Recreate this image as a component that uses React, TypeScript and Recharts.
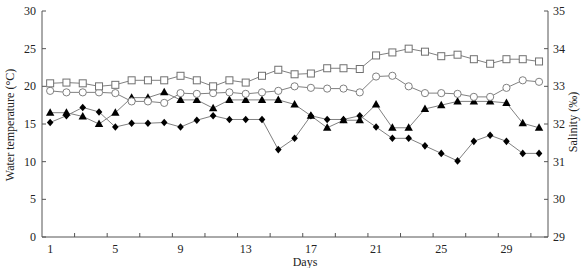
import React from 'react';
import { LineChart, Line, XAxis, YAxis } from 'recharts';

const days = [1, 2, 3, 4, 5, 6, 7, 8, 9, 10, 11, 12, 13, 14, 15, 16, 17, 18, 19, 20, 21, 22, 23, 24, 25, 26, 27, 28, 29, 30, 31];

// Water temperature (°C), left axis
const tempSquare = [20.4, 20.5, 20.4, 20.0, 20.2, 20.8, 20.8, 20.8, 21.4, 20.8, 20.0, 20.8, 20.5, 21.4, 22.2, 21.6, 21.7, 22.4, 22.4, 22.3, 24.1, 24.5, 25.0, 24.6, 24.0, 24.2, 23.6, 23.0, 23.6, 23.6, 23.3];
const tempCircle = [19.4, 19.2, 19.2, 19.2, 19.1, 18.0, 18.0, 17.8, 19.1, 19.0, 19.1, 19.2, 19.0, 19.2, 19.4, 20.0, 19.8, 19.7, 19.7, 19.2, 21.3, 21.4, 20.0, 19.1, 19.1, 19.0, 18.6, 18.6, 19.8, 20.8, 20.6];

// Salinity (‰), right axis
const salTriangle = [32.3, 32.3, 32.2, 32.0, 32.3, 32.7, 32.7, 32.84, 32.64, 32.64, 32.42, 32.64, 32.64, 32.64, 32.64, 32.52, 32.22, 31.9, 32.1, 32.1, 32.52, 31.9, 31.9, 32.4, 32.5, 32.6, 32.6, 32.6, 32.56, 32.02, 31.9];
const salDiamond = [32.04, 32.22, 32.44, 32.32, 31.92, 32.02, 32.02, 32.04, 31.92, 32.1, 32.22, 32.12, 32.12, 32.12, 31.32, 31.62, 32.22, 32.12, 32.12, 32.22, 31.92, 31.62, 31.62, 31.42, 31.22, 31.02, 31.54, 31.7, 31.54, 31.22, 31.22];

const xLabelTicks = [1, 5, 9, 13, 17, 21, 25, 29];
const xMinorTicks = [2.5, 4.5, 6.5, 8.5, 10.5, 12.5, 14.5, 16.5, 18.5, 20.5, 22.5, 24.5, 26.5, 28.5, 30.5];
const leftTicks = [0, 5, 10, 15, 20, 25, 30];
const rightTicks = [29, 30, 31, 32, 33, 34, 35];

const data = days.map((d, i) => ({
  day: d,
  sq: tempSquare[i],
  ci: tempCircle[i],
  tr: salTriangle[i],
  di: salDiamond[i],
}));

const FONT = '"Liberation Serif", "Times New Roman", serif';
const AXIS = '#555';
const LINE = '#808080';

const XTick = (props: any) => {
  const { x, y, payload } = props;
  const v = payload.value;
  if (Number.isInteger(v)) {
    return (
      <text x={x} y={y + 16} textAnchor="middle" fontSize={12} fill="#222" fontFamily={FONT}>
        {v}
      </text>
    );
  }
  return <line x1={x} x2={x} y1={y} y2={y - 4} stroke={AXIS} strokeWidth={1} />;
};

const LeftTick = (props: any) => {
  const { x, y, payload } = props;
  return (
    <g>
      <line x1={x} x2={x + 4} y1={y} y2={y} stroke={AXIS} strokeWidth={1} />
      <text x={x - 6} y={y + 4} textAnchor="end" fontSize={12} fill="#222" fontFamily={FONT}>
        {payload.value}
      </text>
    </g>
  );
};

const RightTick = (props: any) => {
  const { x, y, payload } = props;
  return (
    <g>
      <line x1={x} x2={x - 4} y1={y} y2={y} stroke={AXIS} strokeWidth={1} />
      <text x={x + 5} y={y + 4} textAnchor="start" fontSize={12} fill="#222" fontFamily={FONT}>
        {payload.value}
      </text>
    </g>
  );
};

const SquareDot = (p: any) => (
  <rect key={`sq-${p.index}`} x={p.cx - 3.5} y={p.cy - 3.5} width={7} height={7} fill="#fff" stroke="#707070" strokeWidth={1} />
);
const CircleDot = (p: any) => (
  <circle key={`ci-${p.index}`} cx={p.cx} cy={p.cy} r={3.6} fill="#fff" stroke="#808080" strokeWidth={1} />
);
const TriangleDot = (p: any) => (
  <polygon key={`tr-${p.index}`} points={`${p.cx},${p.cy - 4.5} ${p.cx - 4.2},${p.cy + 3} ${p.cx + 4.2},${p.cy + 3}`} fill="#000" />
);
const DiamondDot = (p: any) => (
  <polygon key={`di-${p.index}`} points={`${p.cx},${p.cy - 3.8} ${p.cx + 3.3},${p.cy} ${p.cx},${p.cy + 3.8} ${p.cx - 3.3},${p.cy}`} fill="#000" />
);

export default function App() {
  return (
    <div style={{ position: 'absolute', left: 0, top: 0, width: 588, height: 268, background: '#fff' }}>
      <LineChart width={588} height={268} data={data} margin={{ top: 11, right: 0, bottom: 0, left: 0 }}>
        <XAxis
          dataKey="day"
          type="number"
          domain={[0.5, 31.55]}
          ticks={[...xLabelTicks, ...xMinorTicks].sort((a, b) => a - b)}
          interval={0}
          tick={<XTick />}
          tickLine={false}
          tickSize={0}
          tickMargin={0}
          height={31}
          axisLine={{ stroke: AXIS }}
        />
        <YAxis
          yAxisId="left"
          orientation="left"
          domain={[0, 30]}
          ticks={leftTicks}
          interval={0}
          width={42}
          tick={<LeftTick />}
          tickLine={false}
          tickSize={0}
          tickMargin={0}
          axisLine={{ stroke: AXIS }}
        />
        <YAxis
          yAxisId="right"
          orientation="right"
          domain={[29, 35]}
          ticks={rightTicks}
          interval={0}
          width={40}
          tick={<RightTick />}
          tickLine={false}
          tickSize={0}
          tickMargin={0}
          axisLine={{ stroke: AXIS }}
        />
        <Line yAxisId="right" dataKey="di" stroke={LINE} strokeWidth={1} dot={DiamondDot} isAnimationActive={false} />
        <Line yAxisId="right" dataKey="tr" stroke={LINE} strokeWidth={1} dot={TriangleDot} isAnimationActive={false} />
        <Line yAxisId="left" dataKey="ci" stroke={LINE} strokeWidth={1} dot={CircleDot} isAnimationActive={false} />
        <Line yAxisId="left" dataKey="sq" stroke={LINE} strokeWidth={1} dot={SquareDot} isAnimationActive={false} />
        <text x={14} y={125} transform="rotate(-90 14 125)" textAnchor="middle" fontSize={12} fill="#222" fontFamily={FONT}>
          Water temperature (°C)
        </text>
        <text x={577} y={122} transform="rotate(-90 577 122)" textAnchor="middle" fontSize={12} fill="#222" fontFamily={FONT}>
          Salinity (‰)
        </text>
        <text x={305} y={266} textAnchor="middle" fontSize={12} fill="#222" fontFamily={FONT}>
          Days
        </text>
      </LineChart>
    </div>
  );
}
